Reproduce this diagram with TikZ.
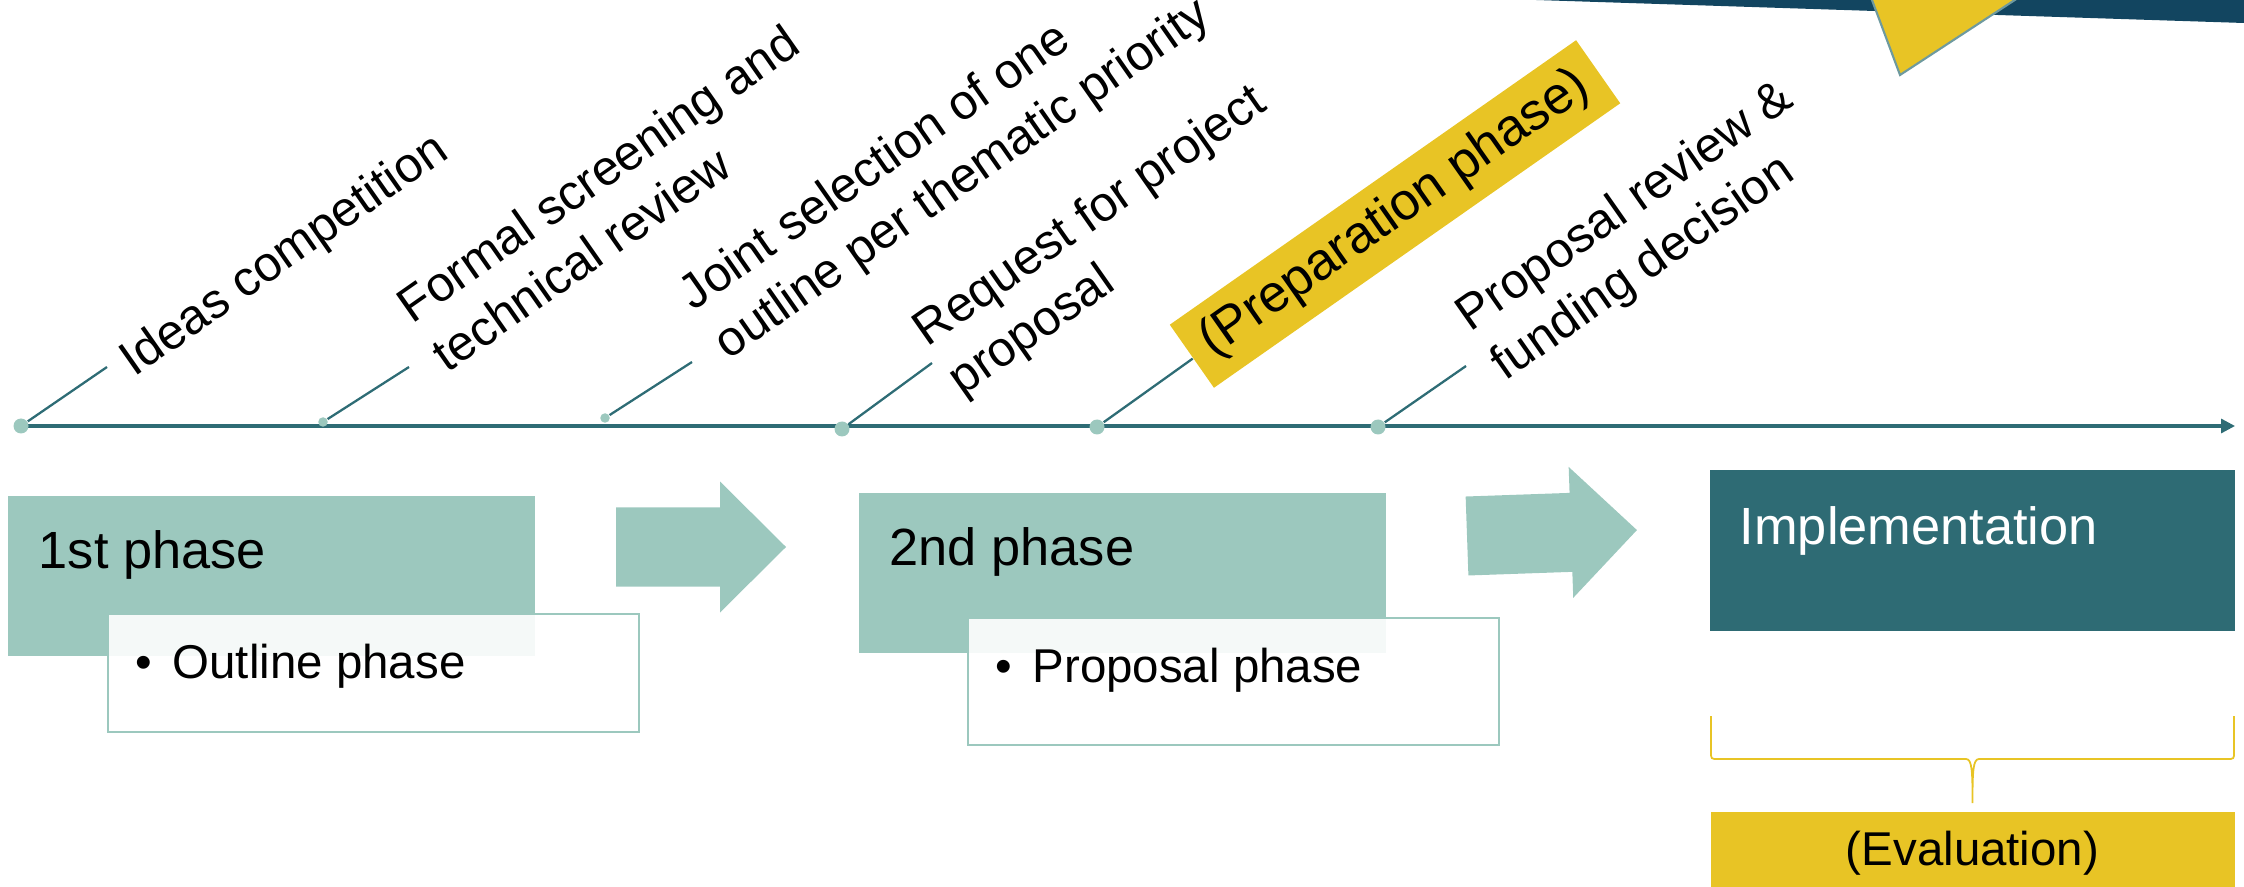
\documentclass[tikz,border=0pt]{standalone}
\usepackage{fontspec}
\setmainfont{Liberation Sans}
\usetikzlibrary{calc}
\usetikzlibrary{arrows.meta}
\usetikzlibrary{backgrounds}

\definecolor{tealline}{RGB}{46,108,117}
\definecolor{tealdark}{RGB}{46,107,116}
\definecolor{teallight}{RGB}{156,200,190}
\definecolor{mustard}{RGB}{232,196,37}
\definecolor{navy}{RGB}{18,69,96}
\definecolor{trigray}{RGB}{110,154,159}

\begin{document}
\begin{tikzpicture}[
        dot/.style={circle, fill=teallight, inner sep=0pt, minimum size=1.5mm},
        leader/.style={draw=tealline, line width=0.65pt},
        milestone/.style={rotate=35, anchor=base west, align=left, inner sep=0pt,
        font=\fontsize{14}{17.2}\selectfont},
        phasebox/.style={fill=teallight, anchor=north west, inner sep=0pt,
        minimum width=5.27cm, minimum height=1.6cm},
        bulletbox/.style={draw=teallight, line width=0.6pt, fill=white, fill opacity=0.9,
        anchor=north west, inner sep=0pt, minimum width=5.31cm},
        heading/.style={anchor=base west, inner sep=0pt, font=\fontsize{14.9}{17.2}\selectfont},
        bullettext/.style={anchor=base west, inner sep=0pt, font=\fontsize{13.5}{16}\selectfont},
        blockarrow/.style={fill=teallight}
    ]

    \def\W{22.44}
    \def\H{8.86}
    \def\tl{4.60}

    \useasboundingbox (0,0) rectangle (\W,\H);
    \clip (0,0) rectangle (\W,\H);

    % corner decoration
    \fill[navy] (15.36,\H) -- (22.50,8.628) -- (22.50,9.0) -- (15.36,9.0) -- cycle;
    \filldraw[fill=mustard, draw=trigray, line width=0.6pt]
    (18.57,9.26) -- (19.00,8.11) -- (20.76,9.26) -- cycle;

    % timeline
    \foreach \i/\px/\py/\sz in {1/0.21/4.60/1.5mm, 2/3.23/4.64/0.95mm, 3/6.05/4.68/0.95mm,
        4/8.42/4.57/1.5mm, 5/10.97/4.59/1.5mm, 6/13.78/4.59/1.5mm}{
        \node[dot, minimum size=\sz] (d\i) at (\px,\py) {};
    }
    \coordinate (tlend) at (22.35,\tl);
    \begin{scope}[on background layer]
        \draw[tealline, line width=0.9pt, -{Triangle[length=1.4mm, width=1.4mm]}]
        (d1.center) -- (tlend);
    \end{scope}

    \node[rotate=35, fill=mustard, inner sep=0pt, minimum width=4.96cm, minimum height=0.77cm,
    font=\fontsize{14.9}{17.2}\selectfont] (prep) at (13.95,6.72) {(Preparation phase)};

    \foreach \i/\ex/\ey in {1/1.07/5.19, 2/4.09/5.19, 3/6.92/5.24, 4/9.32/5.23, 6/14.66/5.20}{
        \coordinate (e\i) at (\ex,\ey);
        \draw[leader] (d\i) -- (e\i);
    }
    \draw[leader] (d5) -- (prep);

    \node[milestone] (m1) at (1.34,5.08) {Ideas competition};
    \node[milestone] (m2) at (4.47,5.12) {Formal screening and\\technical review};
    \node[milestone] (m3) at (7.28,5.25) {Joint selection of one\\outline per thematic priority};
    \node[milestone] (m4) at (9.62,4.89) {Request for project\\proposal};
    \node[milestone] (m6) at (15.05,5.04) {Proposal review \&\\funding decision};

    % phases
    \node[phasebox] (p1) at (0.07,3.91) {};
    \node[heading] (p1text) at ([shift={(0.31,-0.735)}]p1.north west) {1st phase};
    \node[bulletbox, minimum height=1.18cm] (o1) at (1.07,2.73) {};
    \node[bullettext] (o1text) at ([shift={(0.28,-0.65)}]o1.north west)
    {\makebox[0.37cm][l]{\textbullet}Outline phase};

    \fill[blockarrow, shift={(6.16,3.39)}] (0,0.395) -- (1.04,0.395) -- (1.04,0.655) -- (1.70,0)
    -- (1.04,-0.655) -- (1.04,-0.395) -- (0,-0.395) -- cycle;

    \node[phasebox] (p2) at (8.58,3.94) {};
    \node[heading] (p2text) at ([shift={(0.31,-0.735)}]p2.north west) {2nd phase};
    \node[bulletbox, minimum height=1.27cm] (o2) at (9.67,2.69) {};
    \node[bullettext] (o2text) at ([shift={(0.28,-0.65)}]o2.north west)
    {\makebox[0.37cm][l]{\textbullet}Proposal phase};

    \fill[blockarrow, shift={(14.67,3.50)}, rotate=2] (0,0.395) -- (1.04,0.395) -- (1.04,0.655)
    -- (1.70,0) -- (1.04,-0.655) -- (1.04,-0.395) -- (0,-0.395) -- cycle;

    \node[phasebox, fill=tealdark, minimum width=5.25cm, minimum height=1.61cm] (impl)
    at (17.09,4.17) {};
    \node[heading, text=white] (impltext) at ([shift={(0.30,-0.75)}]impl.north west)
    {Implementation};

    % evaluation
    \draw[mustard, line width=0.5pt] (17.11,1.70) -- (17.11,1.34) .. controls (17.11,1.27) ..
    (17.18,1.27) -- (19.66,1.27) .. controls (19.72,1.27) and (19.725,1.15) .. (19.725,0.83)
    .. controls (19.725,1.15) and (19.73,1.27) .. (19.79,1.27) -- (22.27,1.27)
    .. controls (22.34,1.27) .. (22.34,1.34) -- (22.34,1.70);
    \node[fill=mustard, anchor=north, inner sep=0pt, minimum width=5.24cm, minimum height=0.84cm,
    font=\fontsize{13.5}{16}\selectfont] (eval) at (19.725,0.75) {(Evaluation)};
\end{tikzpicture}
\end{document}
